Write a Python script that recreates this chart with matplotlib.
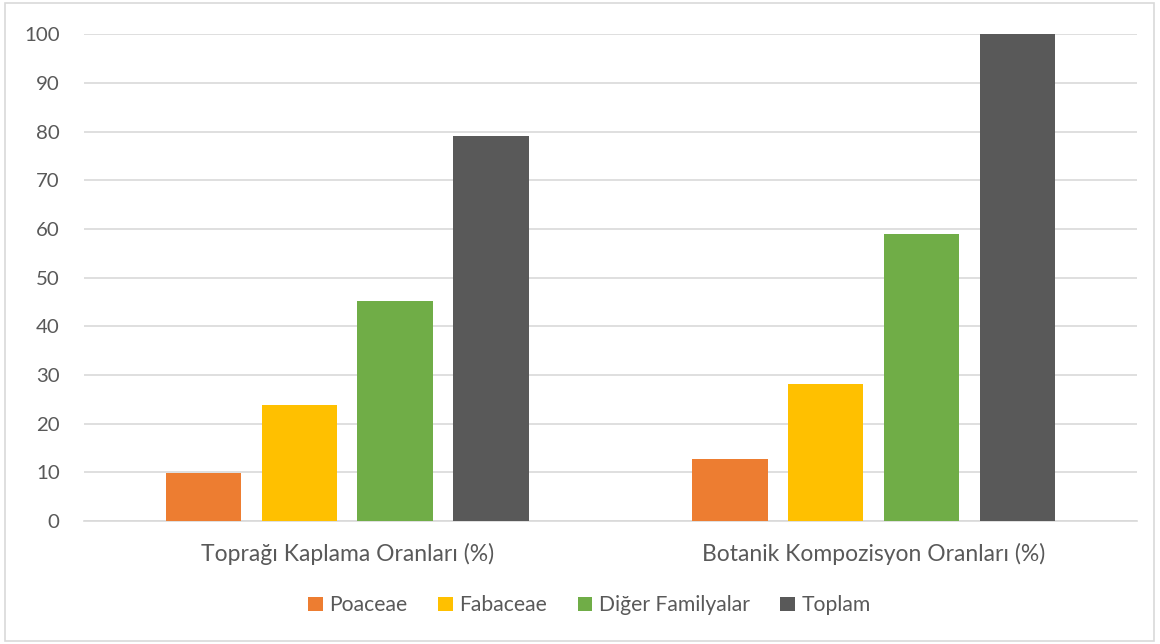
import numpy as np
import matplotlib
matplotlib.use("Agg")
import matplotlib.pyplot as plt
from matplotlib.patches import Rectangle

# Data
categories = ["Toprağı Kaplama Oranları (%)", "Botanik Kompozisyon Oranları (%)"]
series_names = ["Poaceae", "Fabaceae", "Diğer Familyalar", "Toplam"]
poaceae = [9.9, 12.8]
fabaceae = [23.8, 28.2]
diger = [45.1, 58.9]
toplam = [79.0, 100.0]
colors = ["#ED7D31", "#FFC000", "#70AD47", "#595959"]

plt.rcParams['font.family'] = ['Lato', 'DejaVu Sans']
text_color = "#595959"

fig = plt.figure(figsize=(11.6, 6.44), dpi=100)
ax = fig.add_axes([0.0724, 0.191, 0.9076, 0.756])

x = np.arange(len(categories))
width = 0.143
step = 0.182
all_series = [poaceae, fabaceae, diger, toplam]
for i, (vals, name, c) in enumerate(zip(all_series, series_names, colors)):
    offset = (i - 1.5) * step
    ax.bar(x + offset, vals, width, color=c, label=name, zorder=3)

ax.set_xlim(-0.5, 1.5)
ax.set_ylim(0, 100)
ax.set_yticks(np.arange(0, 101, 10))
ax.set_xticks(x)
ax.set_xticklabels(categories, fontsize=16.5)
ax.grid(axis='y', color="#d9d9d9", linewidth=1.2, zorder=0)
for s in ["top", "right", "left"]:
    ax.spines[s].set_visible(False)
ax.spines["bottom"].set_color("#d9d9d9")
ax.spines["bottom"].set_linewidth(1.2)
ax.tick_params(axis='both', length=0, colors=text_color)
ax.tick_params(axis='y', labelsize=14.7, pad=17.5)
ax.tick_params(axis='x', pad=16)

leg = fig.legend(loc='center', bbox_to_anchor=(0.508, 0.06), ncol=4, frameon=False,
                 fontsize=15.2, handlelength=0.7, handleheight=0.7,
                 handletextpad=0.3, columnspacing=1.45)
for t in leg.get_texts():
    t.set_color(text_color)

# light border round the chart area
fig.patches.append(Rectangle((0.004, 0.005), 0.991, 0.99, transform=fig.transFigure,
                             fill=False, edgecolor="#d9d9d9", linewidth=1.2))

fig.savefig("out.png", dpi=100)
